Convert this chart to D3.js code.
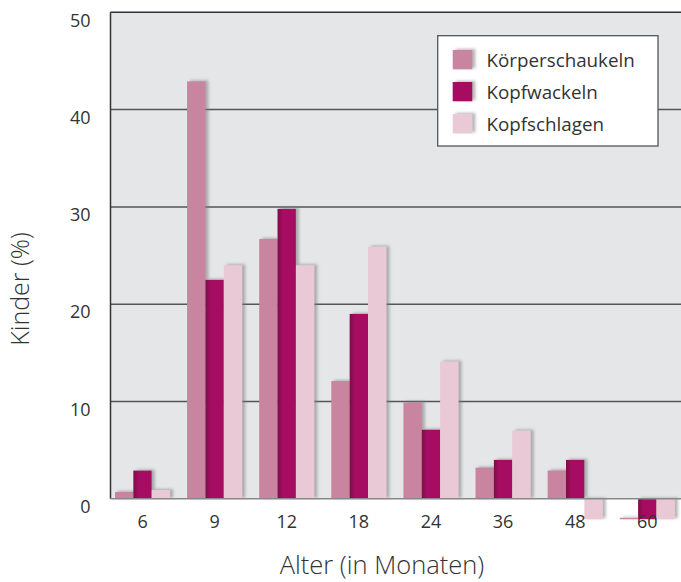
<!DOCTYPE html>
<html><head><meta charset="utf-8">
<script src="https://cdn.jsdelivr.net/npm/d3@7/dist/d3.min.js"></script>
<style>body{margin:0;background:#fff}svg{display:block}text{font-family:"Open Sans",sans-serif;fill:#333}</style>
</head><body><svg id="c" width="681" height="582"></svg>
<script>
const categories = ["6","9","12","18","24","36","48","60"];
const seriesNames = ["Körperschaukeln","Kopfwackeln","Kopfschlagen"];
const koerperschaukeln = [0.7, 42.9, 26.7, 12.1, 9.9, 3.2, 2.9, 0];
const kopfwackeln     = [2.9, 22.5, 29.8, 19.0, 7.1, 4.0, 4.0, -2.1];
const kopfschlagen    = [0.9, 24.0, 24.0, 25.9, 14.1, 7.0, -2.1, -2.1];
// thin stub drawn for Körperschaukeln at 60 (from, to)
const stubs = [{cat:"60", series:0, from:-1.95, to:-2.1}];
const yTicks = [0,10,20,30,40,50];
const colors = ["#c9849f","#a60d62","#e9c9d5"];

const svg = d3.select("#c");
const L = 110.5, T = 12.3, B = 498.8, R = 681;
const y = d3.scaleLinear().domain([0,50]).range([B,T]);
const x0 = d3.scaleBand().domain(categories).range([110.5,679.3]).paddingInner(0.236).paddingOuter(0.062);
const x1 = d3.scaleBand().domain(d3.range(3)).range([0,x0.bandwidth()]);

const defs = svg.append("defs");
const f = defs.append("filter").attr("id","sh").attr("x","-30%").attr("y","-30%").attr("width","160%").attr("height","160%");
f.append("feDropShadow").attr("dx",3).attr("dy",-1).attr("stdDeviation",1.6).attr("flood-color","#777").attr("flood-opacity",0.55);
const g = defs.append("linearGradient").attr("id","gw").attr("x1","0").attr("x2","1");
g.append("stop").attr("offset","0").attr("stop-color","#7d0c48");
g.append("stop").attr("offset","0.3").attr("stop-color","#a60d62");
g.append("stop").attr("offset","1").attr("stop-color","#a60d62");

svg.append("rect").attr("x",L).attr("y",T).attr("width",R-L).attr("height",B-T).attr("fill","#e5e6e8");
svg.append("g").selectAll("line").data(yTicks.filter(d=>d>0&&d<50)).join("line")
  .attr("x1",L).attr("x2",R).attr("y1",d=>y(d)).attr("y2",d=>y(d))
  .attr("stroke","#555").attr("stroke-width",1.5);

const data = [koerperschaukeln,kopfwackeln,kopfschlagen];
const fills = [colors[0],"url(#gw)",colors[2]];
const bars = svg.append("g").attr("filter","url(#sh)");
categories.forEach((c,i)=>{
  data.forEach((arr,s)=>{
    const v = arr[i];
    if (v===0) return;
    bars.append("rect")
      .attr("x",x0(c)+x1(s)).attr("width",x1.bandwidth())
      .attr("y",y(Math.max(0,v))).attr("height",Math.abs(y(v)-y(0)))
      .attr("fill",fills[s]);
  });
});
stubs.forEach(st=>{
  bars.append("rect").attr("x",x0(st.cat)+x1(st.series)).attr("width",x1.bandwidth())
    .attr("y",y(st.from)).attr("height",y(st.to)-y(st.from)).attr("fill",colors[st.series]);
});

svg.append("line").attr("x1",L).attr("x2",R).attr("y1",T).attr("y2",T).attr("stroke","#333").attr("stroke-width",1.5);
svg.append("line").attr("x1",L).attr("x2",L).attr("y1",T).attr("y2",B).attr("stroke","#333").attr("stroke-width",1.5);
svg.append("line").attr("x1",L).attr("x2",R).attr("y1",B).attr("y2",B).attr("stroke","#888").attr("stroke-width",1.5);

const yAxis = d3.axisLeft(y).tickValues(yTicks).tickSize(0).tickPadding(0);
const ya = svg.append("g").attr("transform",`translate(${L-20},8)`).call(yAxis);
ya.select(".domain").remove();
ya.selectAll("text").attr("font-size",18).attr("fill","#333").style("font-family","'Open Sans',sans-serif");

const xAxis = d3.axisBottom(x0).tickSize(0).tickPadding(0);
const xa = svg.append("g").attr("transform",`translate(0,${B+16})`).call(xAxis);
xa.select(".domain").remove();
xa.selectAll("text").attr("font-size",18).attr("fill","#333").style("font-family","'Open Sans',sans-serif");

svg.append("text").attr("x",382).attr("y",574).attr("text-anchor","middle").attr("font-size",25.5).attr("font-weight",300).text("Alter (in Monaten)");
svg.append("text").attr("transform","translate(29,289) rotate(-90)").attr("text-anchor","middle").attr("font-size",25).attr("font-weight",300).text("Kinder (%)");

const lg = svg.append("g");
lg.append("rect").attr("x",437.7).attr("y",35.7).attr("width",220.3).attr("height",110.3).attr("fill","#fff").attr("stroke","#555").attr("stroke-width",1.3);
seriesNames.forEach((n,i)=>{
  lg.append("rect").attr("x",452.7).attr("y",50+i*32).attr("width",19.6).attr("height",19.3).attr("fill",colors[i]).attr("filter","url(#sh)");
  lg.append("text").attr("x",486.5).attr("y",66.5+i*32).attr("font-size",18.8).text(n);
});
</script></body></html>
